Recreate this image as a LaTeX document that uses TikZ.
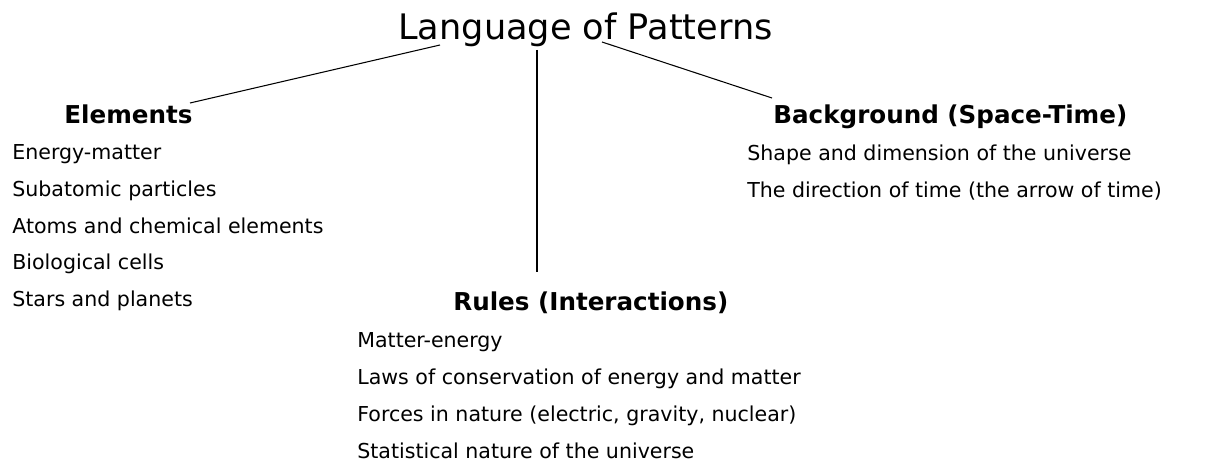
\documentclass[tikz,border=0pt]{standalone}
\usepackage{fontspec}
\setmainfont{DejaVu Sans}
\usepackage{tikz}
\usetikzlibrary{positioning}

\begin{document}
\begin{tikzpicture}[x=0.02cm, y=-0.02cm,
    head/.style = {anchor=base west, inner sep=0pt, font=\fontsize{14pt}{16pt}\selectfont\bfseries},
    item/.style = {anchor=base west, inner sep=0pt, font=\fontsize{11.7pt}{14pt}\selectfont},
    link/.style = {line width=0.6pt}]
    \useasboundingbox (0,0) rectangle (1219,466);

    % title
    \node[anchor=base west, inner sep=0pt, font=\fontsize{20pt}{24pt}\selectfont] (title) at (398,40) {Language of Patterns};

    % headers
    \node[head] (elem) at (64,123) {Elements};
    \node[head] (backgr) at (773,123) {Background (Space-Time)};
    \node[head] (rules) at (453,310) {Rules (Interactions)};

    % elements
    \node[item] (e1) at (12,159) {Energy-matter};
    \node[item] (e2) at (12,196) {Subatomic particles};
    \node[item] (e3) at (12,233) {Atoms and chemical elements};
    \node[item] (e4) at (12,269) {Biological cells};
    \node[item] (e5) at (12,306) {Stars and planets};

    % background
    \node[item] (b1) at (747,160) {Shape and dimension of the universe};
    \node[item] (b2) at (747,197) {The direction of time (the arrow of time)};

    % rules
    \node[item] (r1) at (357,347) {Matter-energy};
    \node[item] (r2) at (357,384) {Laws of conservation of energy and matter};
    \node[item] (r3) at (357,421) {Forces in nature (electric, gravity, nuclear)};
    \node[item] (r4) at (357,458) {Statistical nature of the universe};

    % line ends
    \coordinate (tl) at (440,45);
    \coordinate (tm) at (537,50);
    \coordinate (tr) at (602,42);
    \coordinate (el) at (190,103);
    \coordinate (rl) at (537,272);
    \coordinate (bl) at (772,98);

    % lines
    \draw[link] (tl) -- (el);
    \draw[link] (tm) -- (rl);
    \draw[link] (tr) -- (bl);
\end{tikzpicture}
\end{document}
